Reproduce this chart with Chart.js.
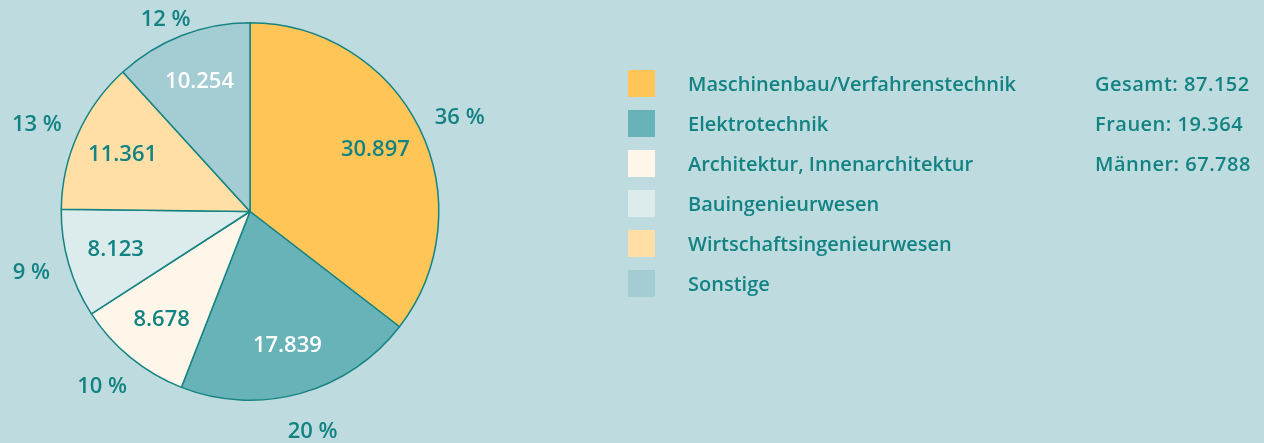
<!DOCTYPE html>
<html>
<head>
<meta charset="utf-8">
<script src="https://cdn.jsdelivr.net/npm/chart.js@4"></script>
<style>
  html, body { margin: 0; padding: 0; background: #BEDCDF; }
  body { width: 1264px; height: 443px; position: relative; overflow: hidden; font-family: "Open Sans", sans-serif; color: #128282; }
  #wrap { position: absolute; left: 0; top: 0; width: 1264px; height: 443px; }
  #legend { position: absolute; left: 628px; top: 70px; }
  .row { height: 40px; position: relative; }
  .box { position: absolute; left: 0; top: 0; width: 27px; height: 27px; }
  .lbl { position: absolute; left: 60px; top: 0; line-height: 27px; font-size: 20px; font-weight: 600; white-space: nowrap; }
  #totals { position: absolute; left: 1095px; top: 70px; }
  #totals div { height: 40px; line-height: 27px; font-size: 20px; font-weight: 600; letter-spacing: 0.5px; white-space: nowrap; }
</style>
</head>
<body>
<div id="wrap"><canvas id="pie"></canvas></div>
<div id="legend"></div>
<div id="totals"></div>
<script>
const categories = ['Maschinenbau/Verfahrenstechnik', 'Elektrotechnik', 'Architektur, Innenarchitektur', 'Bauingenieurwesen', 'Wirtschaftsingenieurwesen', 'Sonstige'];
const values = [30897, 17839, 8678, 8123, 11361, 10254];
const percentLabels = ['36 %', '20 %', '10 %', '9 %', '13 %', '12 %'];
const colors = ['#FFC657', '#68B3B8', '#FFF6EA', '#DCEBEB', '#FFDFA5', '#A3CDD3'];
const valueTextColors = ['#128282', '#ffffff', '#128282', '#128282', '#128282', '#ffffff'];
const totalLabels = ['Gesamt', 'Frauen', 'Männer'];
const totalValues = [87152, 19364, 67788];

const teal = '#128282';
const fmt = n => n.toLocaleString('de-DE');

// legend + totals
const legend = document.getElementById('legend');
categories.forEach((c, i) => {
  const row = document.createElement('div');
  row.className = 'row';
  row.innerHTML = `<div class="box" style="background:${colors[i]}"></div><div class="lbl">${c}</div>`;
  legend.appendChild(row);
});
const totals = document.getElementById('totals');
totalLabels.forEach((t, i) => {
  const d = document.createElement('div');
  d.textContent = `${t}: ${fmt(totalValues[i])}`;
  totals.appendChild(d);
});

// labels drawn from arc geometry
const sliceLabels = {
  id: 'sliceLabels',
  afterDatasetsDraw(chart) {
    const ctx = chart.ctx;
    const meta = chart.getDatasetMeta(0);
    ctx.save();
    ctx.font = '600 22px "Open Sans", sans-serif';
    ctx.textAlign = 'center';
    ctx.textBaseline = 'middle';
    meta.data.forEach((arc, i) => {
      const { x, y, startAngle, endAngle, outerRadius } = arc.getProps(['x', 'y', 'startAngle', 'endAngle', 'outerRadius'], true);
      const mid = (startAngle + endAngle) / 2;
      const cx = Math.cos(mid), cy = Math.sin(mid);
      const r = outerRadius * 0.74;
      ctx.fillStyle = valueTextColors[i];
      ctx.fillText(fmt(values[i]), x + cx * r, y + cy * r);
      const hw = ctx.measureText(percentLabels[i]).width / 2;
      ctx.fillStyle = teal;
      ctx.fillText(percentLabels[i], x + cx * (outerRadius + 20 + hw), y + cy * (outerRadius + 28 + 12 * cy));
    });
    ctx.restore();
  }
};

new Chart(document.getElementById('pie'), {
  type: 'pie',
  data: {
    labels: categories,
    datasets: [{
      data: values,
      backgroundColor: colors,
      borderColor: '#168383',
      borderWidth: 1.5
    }]
  },
  options: {
    responsive: true,
    maintainAspectRatio: false,
    animation: false,
    layout: { padding: { left: 60, right: 824, top: 22, bottom: 42 } },
    plugins: {
      legend: { display: false },
      tooltip: { enabled: false }
    }
  },
  plugins: [sliceLabels]
});
</script>
</body>
</html>
